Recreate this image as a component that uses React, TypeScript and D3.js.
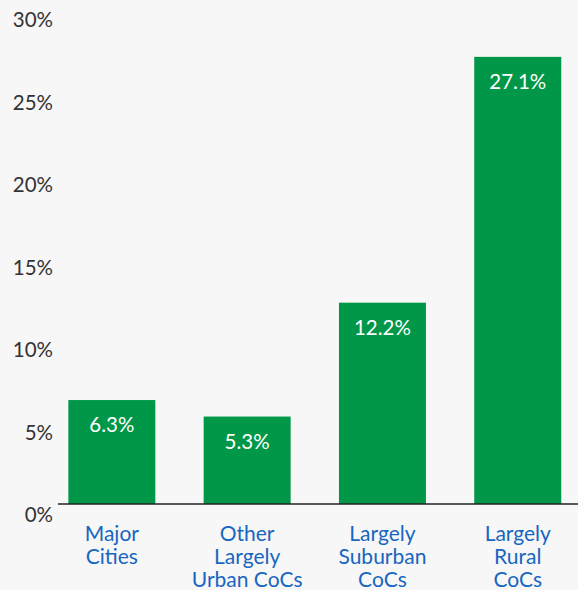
import React from "react";
import * as d3 from "d3";

const categories: string[][] = [
  ["Major", "Cities"],
  ["Other", "Largely", "Urban CoCs"],
  ["Largely", "Suburban", "CoCs"],
  ["Largely", "Rural", "CoCs"],
];
const values: number[] = [6.3, 5.3, 12.2, 27.1];
const yTicks: number[] = [0, 5, 10, 15, 20, 25, 30];

const W = 578;
const H = 590;
const FONT = "Lato, 'Noto Sans', sans-serif";

export default function App() {
  const keys = categories.map((c) => c.join(" "));
  const x = d3
    .scaleBand<string>()
    .domain(keys)
    .range([44.2, 585.4])
    .paddingInner(0.357)
    .paddingOuter(0.1785);
  const y = d3.scaleLinear().domain([0, 30]).range([504, 9]);

  return (
    <div style={{ position: "absolute", left: 0, top: 0, width: W, height: H }}>
      <svg width={W} height={H} style={{ display: "block", background: "#f7f7f7" }}>
        <rect x={0} y={0} width={W} height={H} fill="#f7f7f7" />
        {yTicks.map((t) => (
          <text
            key={t}
            x={53}
            y={y(t) + 18}
            textAnchor="end"
            fontFamily={FONT}
            fontSize={20.5}
            fill="#333333"
          >
            {t}%
          </text>
        ))}
        {values.map((v, i) => {
          const bx = x(keys[i])!;
          const bw = x.bandwidth();
          return (
            <g key={keys[i]}>
              <rect x={bx} y={y(v)} width={bw} height={y(0) - y(v)} fill="#009848" />
              <text
                x={bx + bw / 2}
                y={y(v) + 32}
                textAnchor="middle"
                fontFamily={FONT}
                fontSize={20.5}
                fill="#ffffff"
              >
                {v.toFixed(1)}%
              </text>
              {categories[i].map((line, j) => (
                <text
                  key={j}
                  x={bx + bw / 2}
                  y={541 + j * 23}
                  textAnchor="middle"
                  fontFamily={FONT}
                  fontSize={21}
                  fill="#1766c0"
                >
                  {line}
                </text>
              ))}
            </g>
          );
        })}
        <line x1={58} x2={W} y1={y(0)} y2={y(0)} stroke="#222222" strokeWidth={1.5} />
      </svg>
    </div>
  );
}
